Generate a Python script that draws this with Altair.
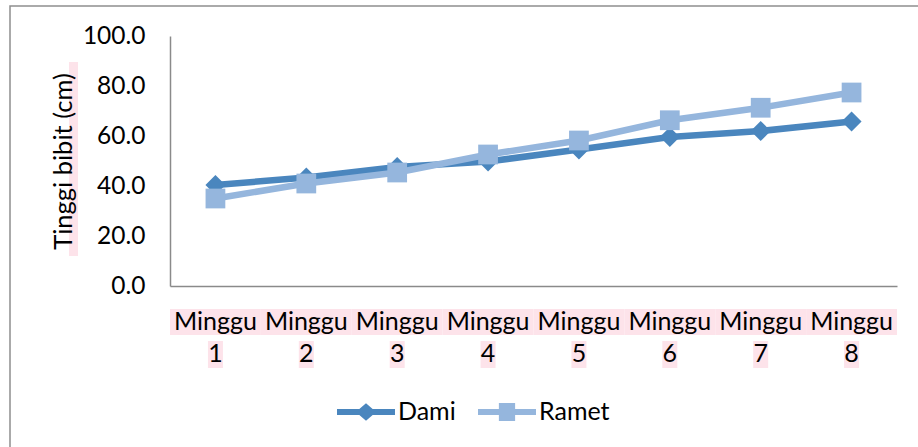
import altair as alt
import pandas as pd

# ---- data ----
weeks = ["Minggu 1", "Minggu 2", "Minggu 3", "Minggu 4",
         "Minggu 5", "Minggu 6", "Minggu 7", "Minggu 8"]
series_names = ["Dami", "Ramet"]
dami = [40.4, 43.4, 47.6, 49.8, 54.6, 59.6, 62.0, 65.8]
ramet = [35.0, 41.0, 45.4, 52.6, 58.2, 66.3, 71.3, 77.4]
y_ticks = [0, 20, 40, 60, 80, 100]

colors = ["#4A86BE", "#95B6DD"]
pink = "#FDE3EA"
FONT = "Lato"

df = pd.DataFrame({
    "week": weeks * 2,
    "series": ["Dami"] * len(weeks) + ["Ramet"] * len(weeks),
    "value": dami + ramet,
})
labels_df = pd.DataFrame({"week": weeks})
one = pd.DataFrame({"a": [0]})

x_scale = alt.Scale(type="band", domain=weeks, paddingInner=0, paddingOuter=0)
color_scale = alt.Scale(domain=series_names, range=colors)

x_axis = alt.Axis(
    title=None, labelAngle=0, labelExpr="split(datum.label, ' ')",
    labelLineHeight=32, labelPadding=23, ticks=False,
    domainColor="#8A8A8A", domainWidth=1.5, labelFontSize=25,
    labelColor="#000000", labelFont=FONT, zindex=1,
)
y_axis = alt.Axis(
    values=y_ticks, format=".1f", grid=False, ticks=False,
    title="Tinggi bibit (cm)", titleFont=FONT, titleFontSize=25.5,
    titleFontWeight="normal", titleColor="#000000",
    titleX=-107, titleY=125, titleAngle=270, titleAlign="center",
    titleBaseline="middle",
    labelFont=FONT, labelFontSize=24.5, labelColor="#000000",
    labelPadding=25, domainColor="#8A8A8A", domainWidth=1.5, zindex=1,
)

X = alt.X("week:N", sort=weeks, scale=x_scale, axis=x_axis)
Y = alt.Y("value:Q", scale=alt.Scale(domain=[0, 100]), axis=y_axis)

frame = alt.Chart(one).mark_rect(
    fillOpacity=0, stroke="#8E8E8E", strokeWidth=1.5
).encode(x=alt.value(-160), x2=alt.value(900), y=alt.value(-30), y2=alt.value(500))

title_pink = alt.Chart(one).mark_rect(color=pink).encode(
    x=alt.value(-101), x2=alt.value(-92), y=alt.value(26), y2=alt.value(220)
)

strip = alt.Chart(labels_df).mark_rect(color=pink).encode(
    x=X, y=alt.value(273), y2=alt.value(299)
)
digits = alt.Chart(labels_df).mark_bar(color=pink, width=15).encode(
    x=X, y=alt.value(305), y2=alt.value(332)
)

def series_layers(name, color, shape, size):
    d = alt.Chart(df).transform_filter(alt.datum.series == name)
    line = d.mark_line(strokeWidth=6.5, color=color).encode(x=X, y=Y)
    pts = d.mark_point(filled=True, opacity=1, shape=shape, size=size,
                       color=color).encode(x=X, y=Y)
    return [line, pts]

path_dami = ("M-1,-0.1 L-0.23,-0.1 L0,-0.3 L0.23,-0.1 L1,-0.1 L1,0.1 "
             "L0.23,0.1 L0,0.3 L-0.23,0.1 L-1,0.1 Z")
path_ramet = ("M-1,-0.1 L-0.28,-0.1 L-0.28,-0.31 L0.28,-0.31 L0.28,-0.1 "
              "L1,-0.1 L1,0.1 L0.28,0.1 L0.28,0.31 L-0.28,0.31 L-0.28,0.1 "
              "L-1,0.1 Z")

leg = dict(
    title=None, orient="none", legendX=167, legendY=347, direction="horizontal",
    symbolSize=3364, symbolStrokeWidth=0, labelFont=FONT, labelFontSize=25,
    labelColor="#000000", labelOffset=3, columnPadding=22,
)
legend_layer = alt.Chart(df).transform_filter("datum.value < 0").mark_point(
    filled=True, opacity=1
).encode(
    x=X, y=Y,
    color=alt.Color("series:N", scale=color_scale, legend=alt.Legend(**leg)),
    shape=alt.Shape("series:N",
                    scale=alt.Scale(domain=series_names, range=[path_dami, path_ramet]),
                    legend=alt.Legend(**leg)),
)

chart = alt.layer(
    frame, title_pink, strip, digits,
    *series_layers("Dami", colors[0], "diamond", 400),
    *series_layers("Ramet", colors[1], "square", 390),
    legend_layer,
).properties(
    width=727, height=250,
    padding={"left": 170, "top": 36, "right": 21, "bottom": 161},
    autosize=alt.AutoSizeParams(type="none"),
    background="#ffffff",
).configure_view(stroke=None)

chart.save("out.html", embed_options={"renderer": "svg", "actions": False})
